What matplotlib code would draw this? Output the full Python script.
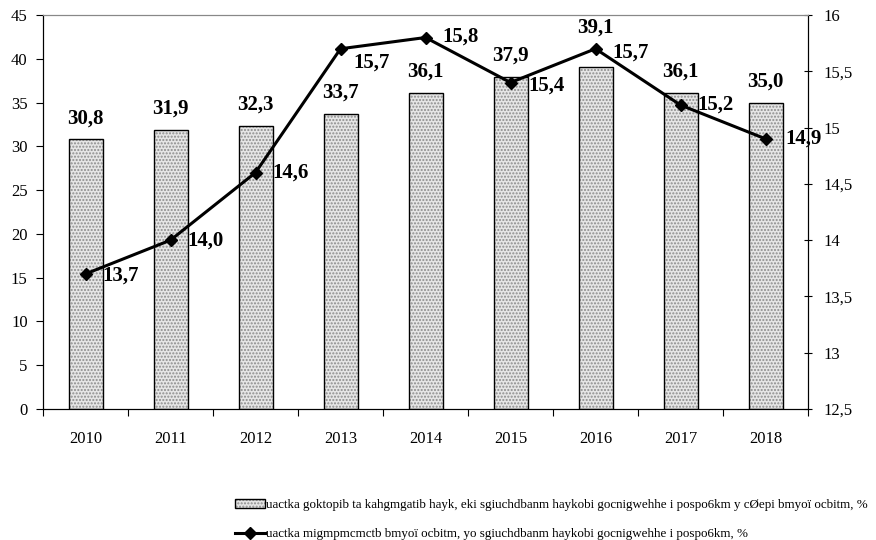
import numpy as np
import matplotlib
matplotlib.use('Agg')
import matplotlib.pyplot as plt
from matplotlib.patches import Patch
from matplotlib.lines import Line2D

plt.rcParams['font.family'] = ['Liberation Serif', 'DejaVu Serif']

years = ['2010', '2011', '2012', '2013', '2014', '2015', '2016', '2017', '2018']
bar_vals = [30.8, 31.9, 32.3, 33.7, 36.1, 37.9, 39.1, 36.1, 35.0]
line_vals = [13.7, 14.0, 14.6, 15.7, 15.8, 15.4, 15.7, 15.2, 14.9]
bar_label = 'uactka goktopib ta kahgmgatib hayk, eki sgiuchdbanm haykobi gocnigwehhe i pospo6km y cØepi bmyoï ocbitm, %'
line_label = 'uactka migmpmcmctb bmyoï ocbitm, yo sgiuchdbanm haykobi gocnigwehhe i pospo6km, %'

def fmt(v):
    return f'{v:.1f}'.replace('.', ',')

fig = plt.figure(figsize=(8.76, 5.4), dpi=100)
ax = fig.add_axes([43/876, 131/540, 765/876, 394/540])
x = np.arange(len(years))

# dotted fill, then black outline on top
ax.bar(x, bar_vals, width=0.4, color='#e6e6e6', hatch='.....', edgecolor='#8c8c8c', linewidth=0, zorder=2)
ax.bar(x, bar_vals, width=0.4, fill=False, edgecolor='black', linewidth=1.0, zorder=3)
# 2016 label sits higher, above the line marker
bar_offsets = [8, 8, 8, 8, 8, 8, 21, 8, 8]
for xi, v, dy in zip(x, bar_vals, bar_offsets):
    ax.annotate(fmt(v), (xi, v), xytext=(0, dy), textcoords='offset points',
                ha='center', va='bottom', fontsize=15, fontweight='bold')

ax.set_xlim(-0.5, len(years) - 0.5)
ax.set_ylim(0, 45)
ax.set_yticks(np.arange(0, 46, 5))
ax.set_xticks(np.arange(-0.5, len(years), 1.0))
ax.set_xticklabels([])
ax.set_xticks(x, minor=True)
ax.set_xticklabels(years, minor=True)
ax.tick_params(axis='x', which='major', length=5, direction='out')
ax.tick_params(axis='x', which='minor', length=0, pad=16, labelsize=12)
ax.tick_params(axis='y', length=5, direction='out', labelsize=12, pad=6)
ax.spines['top'].set_color('#888888')

ax2 = ax.twinx()
ax2.plot(x, line_vals, color='black', linewidth=2.2, marker='D', markersize=6, zorder=5)
offsets = [(12, -1), (12, 0), (12, 0), (9, -10), (12, 1), (13, -2), (12, -3), (12, 0), (14, 0)]
for xi, v, off in zip(x, line_vals, offsets):
    ax2.annotate(fmt(v), (xi, v), xytext=off, textcoords='offset points',
                 ha='left', va='center', fontsize=15, fontweight='bold')
ax2.set_ylim(12.5, 16)
ax2.set_yticks(np.arange(12.5, 16.01, 0.5))
ax2.set_yticklabels(['12,5', '13', '13,5', '14', '14,5', '15', '15,5', '16'])
ax2.tick_params(axis='y', length=6, direction='inout', labelsize=12, pad=8)
ax2.spines['top'].set_color('#888888')
ax.set_zorder(ax2.get_zorder() - 1)
ax.patch.set_visible(True)
ax2.patch.set_visible(False)

h_bar = (Patch(facecolor='#e6e6e6', hatch='.....', edgecolor='#8c8c8c', linewidth=0),
         Patch(fill=False, edgecolor='black', linewidth=1.0))
h_line = Line2D([], [], color='black', linewidth=2.2, marker='D', markersize=6)
fig.legend([h_bar, h_line], [bar_label, line_label], loc='upper left',
           bbox_to_anchor=(228/876, 1 - 492/540), frameon=False, fontsize=9.4,
           handlelength=2.3, handletextpad=0.1, labelspacing=1.35, borderpad=0)

fig.savefig('out.png', dpi=100)
